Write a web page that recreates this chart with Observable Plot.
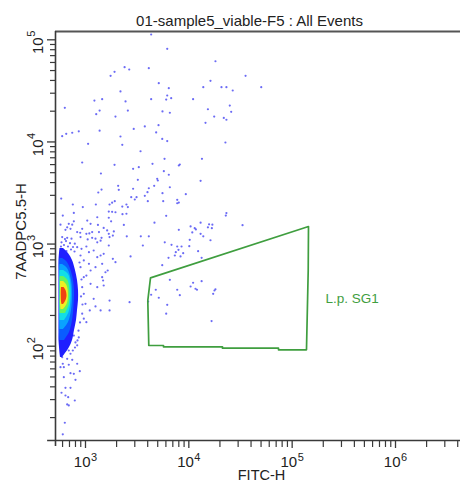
<!DOCTYPE html>
<html><head><meta charset="utf-8">
<script src="https://cdn.jsdelivr.net/npm/d3@7"></script>
<script src="https://cdn.jsdelivr.net/npm/@observablehq/plot@0.6"></script>
<style>body{margin:0;background:#fff} svg{display:block}</style>
</head><body><div id="chart"></div>
<script>
const title = "01-sample5_viable-F5 : All Events";
const xLabel = "FITC-H";
const yLabel = "7AADPC5.5-H";
const gateName = "L.p. SG1";
const xDomain = [512.6, 4.256e6];
const yDomain = [11.93, 1.206e5];
const xMajor = [1e3, 1e4, 1e5, 1e6];
const xExp = ["3", "4", "5", "6"];
const xMinor = [600,700,800,900, 2e3,3e3,4e3,5e3,6e3,7e3,8e3,9e3, 2e4,3e4,4e4,5e4,6e4,7e4,8e4,9e4, 2e5,3e5,4e5,5e5,6e5,7e5,8e5,9e5, 2e6,3e6,4e6];
const yMajor = [1e2, 1e3, 1e4, 1e5];
const yExp = ["2", "3", "4", "5"];
const yMinor = [20,30,40,50,60,70,80,90, 200,300,400,500,600,700,800,900, 2e3,3e3,4e3,5e3,6e3,7e3,8e3,9e3, 2e4,3e4,4e4,5e4,6e4,7e4,8e4,9e4];

// scattered events (FITC-H, 7AADPC5.5-H)
const fitc = [4320,6180,18100,35400,50200,1750,1910,2390,2650,4100,5120,6400,2180,2440,2570,1950,1220,1450,1370,1270,1370,631,595,651,744,861,1060,2180,2270,2930,3750,3410,4320,4830,5090,5530,6180,5560,6040,6180,6750,6550,5820,11000,13800,16200,15300,14500,17600,20700,23100,26600,24900,25700,21800,23100,22600,13400,
929,1910,8000,8180,4450,2890,3280,1410,5730,6400,3210,5010,4620,2070,2100,2890,4100,6550,1430,1330,3980,3750,2770,3120,3000,582,7720,5650,4010,1920,1810,1710,1260,2490,2570,8000,754,942,2270,1680,1810,1950,2280,2490,603,771,1300,1680,6040,1770,1040,771,689,744,665,716,640,573,1320,1500,2350,4650,8000,889,1020,1090,1350,1620,1680,1880,1840,2510,3430,4100,1160,1250,595,665,732,1430,1710,
13000,4940,5560,9350,7720,13000,23100,22800,33100,10400,11400,11700,10800,15700,16900,15300,16700,13000,13800,10200,16200,5850,6800,7720,8500,7940,10100,7480,7320,8310,8820,12300,6360,13300,5530,
6550,11000,10400,11600,12000,13300,7720,8180,4790,4320,5120,4040,6180,6040,18100,17700,17200,16600,
2730,3590,1710,1710,2670,1500,1400,1450,1560,1450,1480,1950,1840,1680,
1120,929,831,895,1050,1160,1300,1400,788,831,915,1020,1080,1200,1300,895,963,1080,1120,1250,1020,895,963,1120,929,1300,1500,1640,1200,1400,963,1000,929,1100,1250,963,1020,
800,831,861,771,689,754,716,595,603,665,744,831,689,617,573,881,716,771,800,617,640,716,586,640,680,689,665,788,631,603,
586,619,648,677,708,599,655,724,757,783,579,633,875,915,905,935,885,856,837,791];
const aad = [112700,81600,61700,44400,34400,44400,48600,53900,51200,52700,37600,33600,31200,24900,20300,17700,25400,26200,20300,18700,12900,21600,11400,12000,12300,12700,9590,11300,9370,13400,14200,8110,26200,12400,14600,10700,10200,19900,26000,28500,26800,19300,6840,26200,34400,39700,20900,15400,17700,34400,34400,31900,22700,19700,17200,16500,9870,6840,
6290,5970,5880,6010,6110,5460,5660,4910,5170,4770,4260,4190,3720,3720,3400,3480,3520,3600,3420,3200,3220,2970,2880,2880,2730,2790,2710,2630,2630,2630,2540,2440,2440,2440,2300,2550,2440,2300,2330,2080,2070,2050,1960,1980,1900,2020,1830,1810,1890,1670,1700,1670,1580,1550,1460,1410,1380,1550,1540,1440,1540,1620,1380,1290,1260,1270,1310,1360,1260,1330,1210,1190,1190,1190,1150,1130,1170,1150,1130,1150,1170,
4160,4350,3150,3080,2510,1620,2010,1900,1530,1490,1430,1390,1300,1560,1550,1460,1430,1260,1190,1100,1090,1040,984,947,947,879,953,833,773,756,814,851,734,734,621,
447,418,384,365,357,433,357,316,357,319,298,274,254,208,361,351,326,176,
756,968,280,224,270,803,773,641,530,474,440,665,717,968,
1580,1410,1310,1170,1110,1310,1040,1080,1010,932,899,947,833,865,744,773,691,641,551,594,492,594,474,408,378,378,393,551,291,224,326,260,208,224,245,186,172,
109,102,122,127,90.8,90.8,84.3,78,67.3,75.3,73.6,67.3,65.8,62.3,62.3,56.9,54.4,53.7,46.9,49.7,39.1,39.1,35,32.9,31.7,26.3,26.9,29.4,17.8,13.7,
1040,979,1070,947,1020,885,855,885,936,846,947,1120,660,450,307,256,171,142,114,97.1];

// dense core of the population: density bands (7AAD level, FITC low, FITC high)
const bandColors = ["#1f1fff", "#0a5cff", "#0aa2ff", "#12dee6", "#62f462", "#eef022", "#f04412"];
const band0Y = [905,809,691,551,440,351,280,224,178.5,142.5,113.7,97.1,84.8,77.5];
const band0Lo = [566.6,560.3,554,554,554,554,554,554,554,554,554,560.3,566.6,572.9];
const band0Hi = [612.5,684.7,748.6,800.4,836.9,855.8,855.8,836.9,818.4,782.7,748.6,700.1,640.4,599];
const band1Y = [722,660,492,351,250,178.5,136,113.7];
const band1Lo = [566.6,560.3,560.3,560.3,560.3,560.3,560.3,566.6];
const band1Hi = [599,669.6,748.6,782.7,774,748.6,700.1,626.3];
const band2Y = [631,577,440,314,224,171,146];
const band2Lo = [566.6,564.1,564.1,564.1,564.1,564.1,566.6];
const band2Hi = [599,669.6,732.1,748.6,732.1,684.7,612.5];
const band3Y = [551,504,393,280,214,178.5];
const band3Lo = [566.6,564.1,564.1,564.1,564.1,566.6];
const band3Hi = [612.5,684.7,724,724,692.4,626.3];
const band4Y = [481,440,336,250,209];
const band4Lo = [569.1,566.6,566.6,566.6,569.1];
const band4Hi = [612.5,677.1,707.9,692.4,640.4];
const band5Y = [430,393,314,256,229];
const band5Lo = [572.9,572.9,572.9,572.9,579.3];
const band5Hi = [612.5,662.2,684.7,662.2,612.5];
const band6Y = [376,351,307,274,256];
const band6Lo = [585.8,583.2,583.2,585.8,592.4];
const band6Hi = [619.4,647.6,662.2,640.4,612.5];

// gate polygon
const gateX = [4256,143900,143000,137600,73770,73770,21170,21170,5686,5686,4099,4008];
const gateY = [467,1486,551,92.2,92.2,95.6,95.6,98.6,98.6,101.6,101.6,280];
const gateLabelX = 2.1e5, gateLabelY = 264;

const bands = [
  [band0Y, band0Lo, band0Hi], [band1Y, band1Lo, band1Hi], [band2Y, band2Lo, band2Hi],
  [band3Y, band3Lo, band3Hi], [band4Y, band4Lo, band4Hi], [band5Y, band5Lo, band5Hi],
  [band6Y, band6Lo, band6Hi]
];

const idx = d3.range(fitc.length);
const gateIdx = d3.range(gateX.length).concat([0]);
const axisColor = "#3a3a3a";

const chart = Plot.plot({
  width: 460, height: 483,
  marginTop: 31, marginLeft: 55, marginBottom: 43, marginRight: 0,
  x: {type: "log", domain: xDomain},
  y: {type: "log", domain: yDomain},
  style: {fontFamily: "'Liberation Sans', Arial, sans-serif", background: "#fff", overflow: "visible"},
  marks: [
    Plot.dot(idx, {x: i => fitc[i], y: i => aad[i], r: 1.1, fill: "#4646f2", fillOpacity: 0.8}),
    ...bands.map(([Y, Lo, Hi], k) => Plot.areaX(d3.range(Y.length), {
      y: i => Y[i], x1: i => Lo[i], x2: i => Hi[i], fill: bandColors[k], curve: "catmull-rom"
    })),
    Plot.line(gateIdx, {x: i => gateX[i], y: i => gateY[i], stroke: "#3f9e3f", strokeWidth: 1.7}),
    Plot.text([gateName], {x: () => gateLabelX, y: () => gateLabelY, textAnchor: "start", lineAnchor: "bottom", fill: "#3f9e3f", fontSize: 13.5}),
    // frame
    Plot.ruleY([yDomain[1]], {stroke: "#555", strokeWidth: 2}),
    Plot.ruleX([xDomain[0]], {y1: () => 10.4, y2: () => yDomain[1], stroke: axisColor, strokeWidth: 1.6}),
    Plot.ruleY([yDomain[0]], {x1: () => 430, x2: () => xDomain[1], stroke: axisColor, strokeWidth: 1.6}),
    // ticks
    Plot.axisX({ticks: xMinor, tickSize: 7, tickFormat: () => "", stroke: axisColor, strokeWidth: 1.2}),
    Plot.axisX({ticks: xMajor, tickSize: 8, tickFormat: () => "", stroke: axisColor, strokeWidth: 1.3}),
    Plot.axisY({ticks: yMinor, tickSize: 5, tickFormat: () => "", stroke: axisColor, strokeWidth: 1.2}),
    Plot.axisY({ticks: yMajor, tickSize: 8, tickFormat: () => "", stroke: axisColor, strokeWidth: 1.3}),
    // tick labels
    Plot.text(xMajor, {x: d => d, frameAnchor: "bottom", dy: 26.7, dx: 5, text: () => "10", textAnchor: "end", lineAnchor: "bottom", fontSize: 15, fill: "#222"}),
    Plot.text(xMajor, {x: d => d, frameAnchor: "bottom", dy: 20, dx: 5.5, text: (d, i) => xExp[i], textAnchor: "start", lineAnchor: "bottom", fontSize: 11, fill: "#222"}),
    Plot.text(yMajor, {y: d => d, frameAnchor: "left", dx: -12.3, dy: -2.5, rotate: -90, text: () => "10", textAnchor: "end", lineAnchor: "bottom", fontSize: 15, fill: "#222"}),
    Plot.text(yMajor, {y: d => d, frameAnchor: "left", dx: -20.5, dy: -3, rotate: -90, text: (d, i) => yExp[i], textAnchor: "start", lineAnchor: "bottom", fontSize: 11, fill: "#222"}),
    // titles
    Plot.text([yLabel], {frameAnchor: "left", dx: -30, dy: -4.5, rotate: -90, textAnchor: "middle", lineAnchor: "bottom", fontSize: 15, fill: "#222"}),
    Plot.text([xLabel], {frameAnchor: "bottom", dx: 3.5, dy: 39.5, lineAnchor: "bottom", fontSize: 14.5, fill: "#222"}),
    Plot.text([title], {frameAnchor: "top", dx: -8.5, dy: -6, lineAnchor: "bottom", fontSize: 15, fill: "#222"})
  ]
});
document.getElementById("chart").appendChild(chart);
</script>
</body></html>
